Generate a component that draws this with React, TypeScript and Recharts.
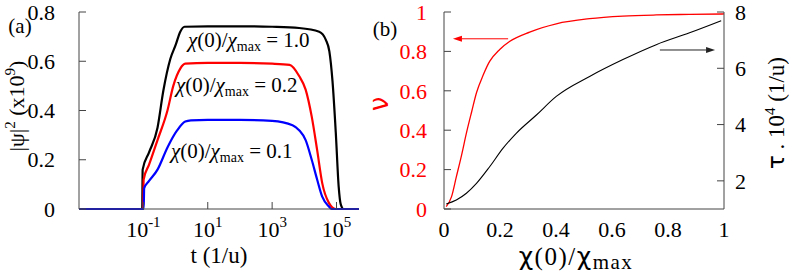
import React from 'react';
import { LineChart, Line, XAxis, YAxis, ReferenceLine } from 'recharts';

const SERIF = "'Liberation Serif', Tinos, 'Times New Roman', Times, 'DejaVu Serif', serif";
const SANS = "'DejaVu Sans', sans-serif";
const AXIS = '#444';

// ---------- Panel (a) data ----------
const tBlack = [0.001, 0.05, 0.092, 0.095, 0.15, 0.275, 0.417, 0.69, 1.0, 1.4, 1.9, 10, 100, 1000, 6900, 29000, 47000, 60000, 75000, 95000, 117000, 135000, 166000, 500000];
const psiBlack = [0, 0, 0, 0.16, 0.23, 0.33, 0.48, 0.61, 0.665, 0.72, 0.74, 0.742, 0.742, 0.74, 0.735, 0.72, 0.686, 0.64, 0.52, 0.31, 0.09, 0.02, 0, 0];

const tRed = [0.001, 0.05, 0.098, 0.102, 0.15, 0.275, 0.56, 0.85, 1.4, 2.0, 10, 100, 1000, 3500, 6900, 11000, 17000, 25000, 36000, 58000, 95000, 500000];
const psiRed = [0, 0, 0, 0.12, 0.18, 0.28, 0.40, 0.50, 0.57, 0.59, 0.593, 0.593, 0.59, 0.585, 0.54, 0.485, 0.375, 0.24, 0.105, 0.025, 0, 0];

const tBlue = [0.001, 0.05, 0.102, 0.106, 0.15, 0.275, 0.56, 1.13, 2.0, 3, 10, 100, 1000, 4300, 6900, 11000, 17000, 25000, 36000, 58000, 70000, 500000];
const psiBlue = [0, 0, 0, 0.085, 0.114, 0.16, 0.25, 0.32, 0.355, 0.36, 0.362, 0.362, 0.358, 0.34, 0.32, 0.28, 0.2, 0.12, 0.05, 0.01, 0, 0];

const xTicksA = [0.1, 10, 1000, 100000];
const yTicksA = [0, 0.2, 0.4, 0.6, 0.8];

// ---------- Panel (b) data ----------
const chiNu = [0.008, 0.027, 0.044, 0.063, 0.08, 0.099, 0.116, 0.14, 0.163, 0.199, 0.234, 0.306, 0.401, 0.52, 0.639, 0.758, 0.877, 1.0];
const nuVals = [0.012, 0.063, 0.163, 0.275, 0.385, 0.495, 0.59, 0.68, 0.749, 0.81, 0.85, 0.898, 0.94, 0.966, 0.979, 0.985, 0.988, 0.99];

const chiTau = [0.008, 0.044, 0.08, 0.116, 0.163, 0.211, 0.258, 0.33, 0.401, 0.52, 0.639, 0.758, 0.877, 0.99];
const tauVals = [1.18, 1.32, 1.56, 1.91, 2.5, 3.16, 3.69, 4.34, 5.0, 5.71, 6.31, 6.84, 7.26, 7.69];

const xTicksB = [0, 0.2, 0.4, 0.6, 0.8, 1];
const nuTicks = [0, 0.2, 0.4, 0.6, 0.8, 1];
const tauTicks = [2, 4, 6, 8];

const zip = (xs: number[], ys: number[]) => xs.map((x, i) => ({ x, y: ys[i] }));
const blackA = zip(tBlack, psiBlack);
const redA = zip(tRed, psiRed);
const blueA = zip(tBlue, psiBlue);
const nuData = zip(chiNu, nuVals);
const tauData = zip(chiTau, tauVals);

const serif = { fontFamily: SERIF };
const sans = { fontFamily: SANS };

// ---------- tick renderers ----------
const LogTickBottom = (p: any) => {
  const exp = Math.round(Math.log10(p.payload.value));
  return (
    <g>
      <line x1={p.x} x2={p.x} y1={p.y} y2={p.y - 7} stroke={AXIS} strokeWidth={1} />
      <text x={p.x} y={p.y + 28} textAnchor="middle" style={serif} fontSize={22} fill="#000">
        10<tspan dy={-10} fontSize={15}>{String(exp)}</tspan>
      </text>
    </g>
  );
};
const TopTick = (p: any) => (
  <line x1={p.x} x2={p.x} y1={p.y} y2={p.y + 7} stroke={AXIS} strokeWidth={1} />
);
const LeftTickA = (p: any) => (
  <g>
    <line x1={p.x} x2={p.x + 7} y1={p.y} y2={p.y} stroke={AXIS} strokeWidth={1} />
    <text x={p.x - 24} y={p.y} dy="0.35em" textAnchor="end" style={serif} fontSize={22} fill="#000">
      {String(p.payload.value)}
    </text>
  </g>
);
const BottomTickB = (p: any) => (
  <text x={p.x} y={p.y + 28} textAnchor="middle" style={serif} fontSize={22} fill="#000">
    {String(p.payload.value)}
  </text>
);
const LeftTickB = (p: any) => (
  <g>
    <line x1={p.x} x2={p.x + 7} y1={p.y} y2={p.y} stroke={AXIS} strokeWidth={1} />
    <text x={p.x - 17} y={p.y} dy="0.35em" textAnchor="end" style={serif} fontSize={22} fill="#ff0000">
      {String(p.payload.value)}
    </text>
  </g>
);
const RightTickB = (p: any) => (
  <g>
    <line x1={p.x} x2={p.x - 7} y1={p.y} y2={p.y} stroke={AXIS} strokeWidth={1} />
    <text x={p.x + 11} y={p.y} dy="0.35em" textAnchor="start" style={serif} fontSize={22} fill="#000">
      {String(p.payload.value)}
    </text>
  </g>
);

const makeArrow = (color: string) => (props: any) => {
  const { x1, y1, x2, y2 } = props;
  const ang = Math.atan2(y2 - y1, x2 - x1);
  const L = 9, W = 3;
  const bx = x2 - L * Math.cos(ang), by = y2 - L * Math.sin(ang);
  const px = -Math.sin(ang) * W, py = Math.cos(ang) * W;
  return (
    <g>
      <line x1={x1} y1={y1} x2={bx} y2={by} stroke={color} strokeWidth={1} />
      <polygon points={`${x2},${y2} ${bx + px},${by + py} ${bx - px},${by - py}`} fill={color} />
    </g>
  );
};

const PanelA = () => (
  <LineChart width={400} height={278} margin={{ top: 12, right: 41, bottom: 39, left: 39 }}>
    <XAxis xAxisId="b" dataKey="x" type="number" scale="log" domain={[0.001, 500000]} allowDataOverflow
      ticks={xTicksA} height={30} tickSize={0} tickMargin={0} tickLine={false}
      axisLine={{ stroke: AXIS }} tick={(p: any) => <LogTickBottom {...p} />} />
    <XAxis xAxisId="t" orientation="top" dataKey="x" type="number" scale="log" domain={[0.001, 500000]} allowDataOverflow
      ticks={xTicksA} height={0} tickSize={0} tickMargin={0} tickLine={false}
      axisLine={{ stroke: AXIS }} tick={(p: any) => <TopTick {...p} />} />
    <YAxis yAxisId="l" type="number" domain={[0, 0.8]} ticks={yTicksA} width={40} tickSize={0} tickMargin={0}
      tickLine={false} axisLine={{ stroke: AXIS }} tick={(p: any) => <LeftTickA {...p} />} />
    <YAxis yAxisId="r" orientation="right" type="number" domain={[0, 0.8]} width={0} tick={false}
      tickLine={false} axisLine={{ stroke: AXIS }} />
    <Line xAxisId="b" yAxisId="l" data={blackA} dataKey="y" type="monotone" stroke="#000" strokeWidth={2.2} dot={false} isAnimationActive={false} />
    <Line xAxisId="b" yAxisId="l" data={redA} dataKey="y" type="monotone" stroke="#ff0000" strokeWidth={2.2} dot={false} isAnimationActive={false} />
    <Line xAxisId="b" yAxisId="l" data={blueA} dataKey="y" type="monotone" stroke="#0000ff" strokeWidth={2.2} dot={false} isAnimationActive={false} />
  </LineChart>
);

const PanelB = () => (
  <LineChart width={399} height={278} margin={{ top: 12, right: 25, bottom: 39, left: 14 }}>
    <XAxis xAxisId="b" dataKey="x" type="number" domain={[0, 1]} ticks={xTicksB} height={30}
      tickSize={0} tickMargin={0} tickLine={false} axisLine={{ stroke: AXIS }}
      tick={(p: any) => <BottomTickB {...p} />} />
    <XAxis xAxisId="t" orientation="top" dataKey="x" type="number" domain={[0, 1]} ticks={xTicksB} height={0}
      tickSize={0} tickMargin={0} tickLine={false} axisLine={{ stroke: AXIS }}
      tick={(p: any) => <TopTick {...p} />} />
    <YAxis yAxisId="l" type="number" domain={[0, 1]} ticks={nuTicks} width={40} tickSize={0} tickMargin={0}
      tickLine={false} axisLine={{ stroke: AXIS }} tick={(p: any) => <LeftTickB {...p} />} />
    <YAxis yAxisId="r" orientation="right" type="number" domain={[1, 8]} ticks={tauTicks} width={40}
      tickSize={0} tickMargin={0} tickLine={false} axisLine={{ stroke: AXIS }}
      tick={(p: any) => <RightTickB {...p} />} />
    <Line xAxisId="b" yAxisId="l" data={nuData} dataKey="y" type="monotone" stroke="#ff0000" strokeWidth={1.3} dot={false} isAnimationActive={false} />
    <Line xAxisId="b" yAxisId="r" data={tauData} dataKey="y" type="monotone" stroke="#000" strokeWidth={1.1} dot={false} isAnimationActive={false} />
    <ReferenceLine xAxisId="b" yAxisId="l" segment={[{ x: 0.229, y: 0.864 }, { x: 0.032, y: 0.864 }]}
      shape={makeArrow('#ff0000')} />
    <ReferenceLine xAxisId="b" yAxisId="r" segment={[{ x: 0.771, y: 6.65 }, { x: 0.968, y: 6.65 }]}
      shape={makeArrow('#222')} />
  </LineChart>
);

const Chi = ({ italic }: { italic?: boolean }) => (
  <tspan style={italic ? { fontFamily: SERIF, fontStyle: 'italic' } : sans}>χ</tspan>
);

const Overlay = () => (
  <svg width={789} height={278} style={{ position: 'absolute', left: 0, top: 0, pointerEvents: 'none' }}>
    <g style={serif} fill="#000">
      <text x={20} y={33} textAnchor="middle" fontSize={21} style={serif}>(a)</text>
      <text transform="translate(24,106) rotate(-90)" textAnchor="middle" fontSize={22} style={serif}>
        |ψ|<tspan dy={-9} fontSize={15}>2</tspan><tspan dy={9}> (x10</tspan><tspan dy={-9} fontSize={15}>9</tspan><tspan dy={9}>)</tspan>
      </text>
      <text x={219} y={263} textAnchor="middle" fontSize={23} style={serif}>t (1/u)</text>

      <text x={188} y={47} fontSize={21} style={serif}>
        <Chi italic />(0)/<Chi italic /><tspan dy={4} fontSize={14}>max</tspan><tspan dy={-4}> = 1.0</tspan>
      </text>
      <text x={176} y={92} fontSize={21} style={serif}>
        <Chi italic />(0)/<Chi italic /><tspan dy={4} fontSize={14}>max</tspan><tspan dy={-4}> = 0.2</tspan>
      </text>
      <text x={171} y={158} fontSize={21} style={serif}>
        <Chi italic />(0)/<Chi italic /><tspan dy={4} fontSize={14}>max</tspan><tspan dy={-4}> = 0.1</tspan>
      </text>

      <text x={385} y={36} textAnchor="middle" fontSize={21} style={serif}>(b)</text>
      <text transform="translate(388,104) rotate(-90)" textAnchor="middle" fontSize={26} style={sans} fill="#ff0000">ν</text>
      <text transform="translate(784,113) rotate(-90)" textAnchor="middle" fontSize={23} style={serif}>
        <tspan style={sans}>τ</tspan> . 10<tspan dy={-9} fontSize={15}>4</tspan><tspan dy={9}> (1/u)</tspan>
      </text>
      <text x={576} y={265} textAnchor="middle" fontSize={25} letterSpacing={1.5} style={serif}>
        <Chi />(0)/<Chi /><tspan dy={4} fontSize={21}>max</tspan>
      </text>
    </g>
  </svg>
);

export default function App() {
  return (
    <div style={{ position: 'absolute', left: 0, top: 0, width: 789, height: 278, background: '#fff' }}>
      <div style={{ position: 'absolute', left: 0, top: 0 }}>
        <PanelA />
      </div>
      <div style={{ position: 'absolute', left: 390, top: 0 }}>
        <PanelB />
      </div>
      <Overlay />
    </div>
  );
}
